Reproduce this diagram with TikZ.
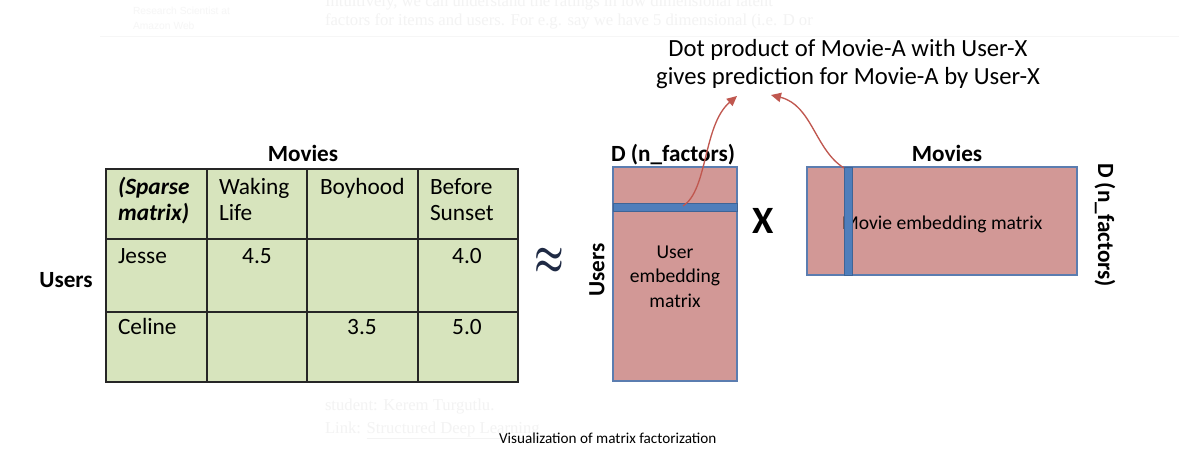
\documentclass[tikz,border=0pt]{standalone}
\usepackage{fontspec}
\setmainfont{Carlito}
\newfontfamily\serifbg{Liberation Serif}
\newfontfamily\sansbg{Liberation Sans}
\usetikzlibrary{arrows.meta}
\definecolor{tblgreen}{HTML}{D7E4BD}
\definecolor{tblline}{HTML}{262626}
\definecolor{matred}{HTML}{D29896}
\definecolor{matedge}{HTML}{5B7DB0}
\definecolor{barblue}{HTML}{4F7EBB}
\definecolor{baredge}{HTML}{3E6496}
\definecolor{arrred}{HTML}{C0574F}
\definecolor{faint}{HTML}{F3F3F3}
\definecolor{faintsans}{HTML}{F6F6F6}
\definecolor{faintline}{HTML}{F6F6F6}
\definecolor{approxcol}{HTML}{1F2A44}
\begin{document}
\begin{tikzpicture}[x=0.75pt,y=-0.75pt,
  every node/.style={inner sep=0pt, outer sep=0pt},
  celltxt/.style={anchor=base west, font=\fontsize{17.5}{21}\selectfont},
  cellnum/.style={anchor=base, font=\fontsize{17.5}{21}\selectfont},
  celltop/.style={anchor=base west, font=\fontsize{17.5}{21}\selectfont\bfseries\itshape},
  boldlab/.style={anchor=base, font=\fontsize{17.4}{21}\selectfont\bfseries},
  rotlab/.style={font=\fontsize{17.4}{21}\selectfont\bfseries},
  mattxt/.style={anchor=base, font=\fontsize{14.7}{18}\selectfont},
  titletxt/.style={anchor=base, font=\fontsize{18.5}{22}\selectfont},
  captxt/.style={anchor=base west, font=\fontsize{11.4}{14}\selectfont},
  bgserif/.style={anchor=base west, text=faint, font=\fontsize{12.5}{15}\serifbg},
  bgsans/.style={anchor=base west, text=faintsans, font=\fontsize{7.7}{9}\sansbg},
  tblgrid/.style={draw=tblline, line width=1.1pt},
  matbox/.style={draw=matedge, fill=matred, line width=0.8pt},
  barbox/.style={draw=baredge, fill=barblue, line width=0.6pt},
  conn/.style={draw=arrred, line width=1pt, -{Triangle[length=7.5pt,width=7pt]}}
]
\useasboundingbox (0,0) rectangle (1179,468);
\fill[white] (0,0) rectangle (1179,468);

% faint background page text
\begin{scope}
\clip (0,0) rectangle (1179,40);
\node[bgserif] (bg0) at (325,6) {Intuitively, we can understand the ratings in low dimensional latent};
\end{scope}
\node[bgserif] (bg1) at (325,25) {factors for items and users. For e.g. say we have 5 dimensional (i.e. D or};
\node[bgsans] (bg2) at (133,14) {Research Scientist at};
\node[bgsans] (bg3) at (133,29) {Amazon Web};
\draw[faintline, line width=0.6pt] (100,36) -- (1179,36);
\node[bgserif] (bg4) at (325,410) {student: Kerem Turgutlu.};
\node[bgserif] (bg5) at (325,433) {Link: \underline{Structured Deep Learning}};

% title
\node[titletxt] (t1) at (848,56) {Dot product of Movie-A with User-X};
\node[titletxt] (t2) at (848,84) {gives prediction for Movie-A by User-X};

% sparse table
\fill[tblgreen] (106,169) rectangle (518,382);
\draw[tblgrid] (106,169) rectangle (518,382);
\draw[tblgrid] (207,169) -- (207,382) (307,169) -- (307,382) (418,169) -- (418,382);
\draw[tblgrid] (106,239) -- (518,239) (106,312) -- (518,312);
\node[boldlab] (movL) at (303,161) {Movies};
\node[boldlab] (usrL) at (66,287) {Users};
\node[celltop] (c11a) at (118,194) {(Sparse};
\node[celltop] (c11b) at (118,220) {matrix)};
\node[celltxt] (c12a) at (219,194) {Waking};
\node[celltxt] (c12b) at (219,220) {Life};
\node[celltxt] (c13) at (320,194) {Boyhood};
\node[celltxt] (c14a) at (430,194) {Before};
\node[celltxt] (c14b) at (430,220) {Sunset};
\node[celltxt] (r1) at (118,263) {Jesse};
\node[cellnum] (v12) at (257,263) {4.5};
\node[cellnum] (v14) at (467,263) {4.0};
\node[celltxt] (r2) at (118,334) {Celine};
\node[cellnum] (v23) at (362,334) {3.5};
\node[cellnum] (v24) at (467,334) {5.0};

% approx
\node[text=approxcol] (approx) at (549,261.5) {\scalebox{1}[1.45]{\fontsize{23}{23}\selectfont\boldmath$\approx$}};

% user embedding matrix
\draw[matbox] (613,167) rectangle (737,381);
\draw[barbox] (613,203) rectangle (737,211);
\node[boldlab] (dL) at (673,161) {D (n\_factors)};
\node[rotlab, rotate=90] (usrR) at (597,270) {Users};
\node[mattxt] (u1) at (675,258) {User};
\node[mattxt] (u2) at (675,282) {embedding};
\node[mattxt] (u3) at (675,307) {matrix};

% times
\node[font=\fontsize{29}{30}\selectfont\bfseries] (times) at (763,221) {X};

% movie embedding matrix
\draw[matbox] (807,167) rectangle (1077,275);
\node[mattxt, anchor=base west] (mtxt) at (842,229) {Movie embedding matrix};
\draw[barbox] (844,167) rectangle (852,275);
\node[boldlab] (movR) at (947,161) {Movies};
\node[rotlab, rotate=-90] (dR) at (1105,225) {D (n\_factors)};

% arrows
\coordinate (ustart) at (683,206);
\coordinate (utip) at (737,96);
\coordinate (mstart) at (844,168);
\coordinate (mtip) at (771,95);
\draw[conn] (ustart) .. controls (708,190) and (703,125) .. (utip);
\draw[conn] (mstart) .. controls (815,150) and (812,105) .. (mtip);

% caption
\node[captxt] (cap) at (499,443) {Visualization of matrix factorization};
\end{tikzpicture}
\end{document}
